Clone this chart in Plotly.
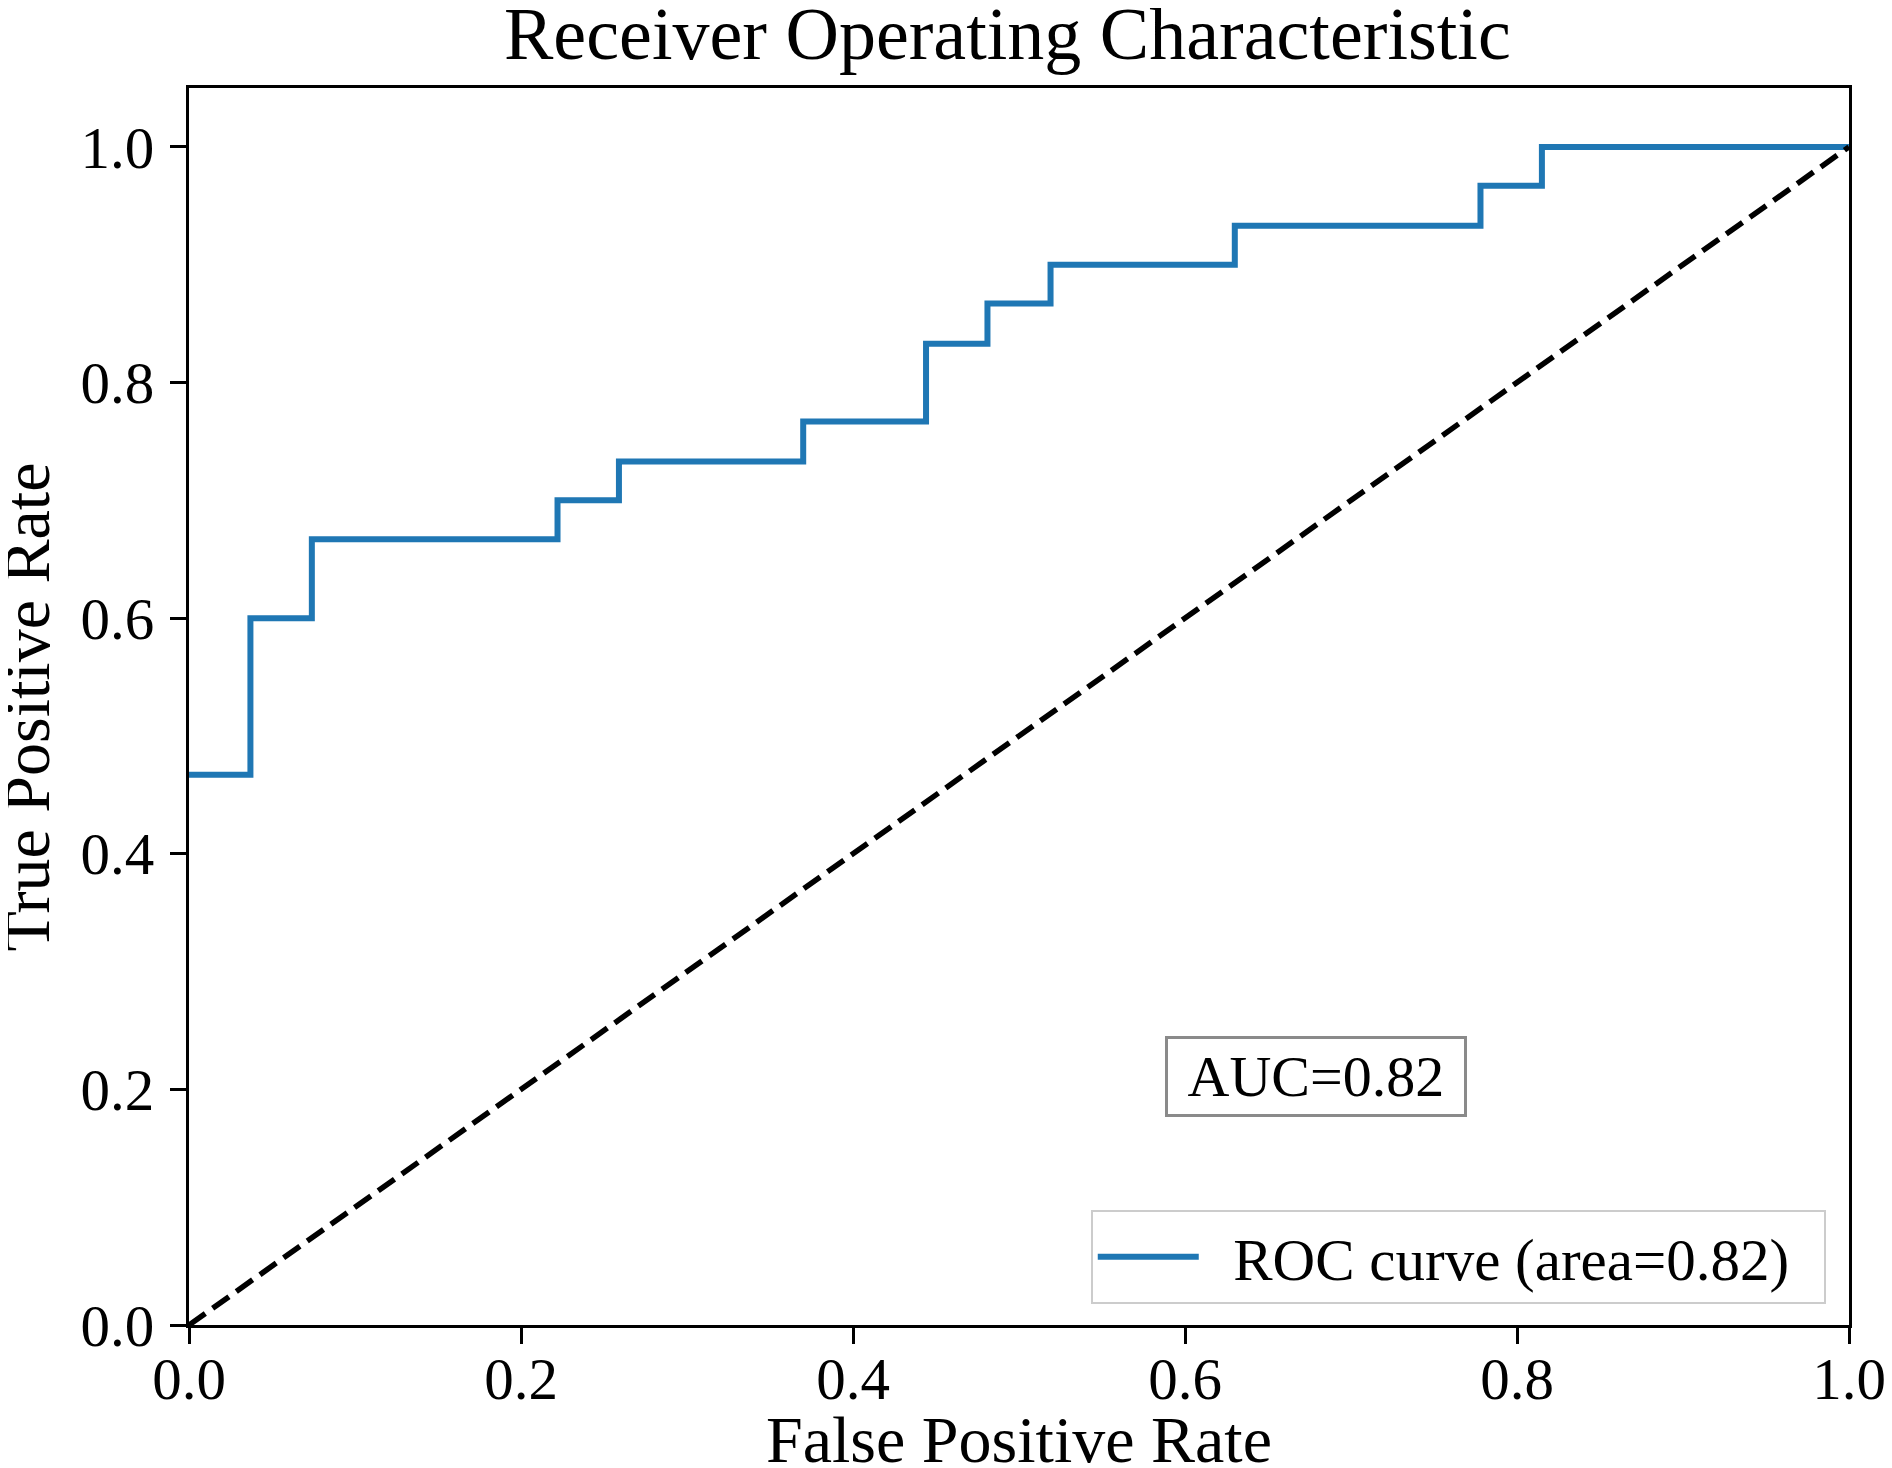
import plotly.graph_objects as go

# ROC curve step points
fpr = [0.0, 0.037, 0.074, 0.222, 0.259, 0.370, 0.444, 0.481, 0.519, 0.630, 0.778, 0.815, 1.0]
tpr = [0.467, 0.600, 0.667, 0.700, 0.733, 0.767, 0.833, 0.867, 0.900, 0.933, 0.967, 1.0, 1.0]
chance_x = [0.0, 1.0]
chance_y = [0.0, 1.0]
roc_label = "ROC curve (area=0.82)"
auc_text = "AUC=0.82"
auc_pos = (0.679, 0.211)
tick_vals = [0.0, 0.2, 0.4, 0.6, 0.8, 1.0]

FONT = "Liberation Serif"
NB = "\u00a0"

fig = go.Figure()
fig.add_trace(go.Scatter(
    x=fpr, y=tpr, mode="lines", line_shape="hv",
    line=dict(color="#1f77b4", width=6), name=NB * 2 + roc_label + NB * 2,
))
fig.add_trace(go.Scatter(
    x=chance_x, y=chance_y, mode="lines",
    line=dict(color="black", width=5.5, dash="20px,9px"), showlegend=False,
))

fig.add_annotation(
    x=auc_pos[0], y=auc_pos[1], xref="x", yref="y", text=NB + auc_text + NB, showarrow=False,
    font=dict(family=FONT, size=58, color="black"),
    bordercolor="#8a8a8a", borderwidth=3, borderpad=5, bgcolor="white",
)
# y-axis title placed in the left margin
fig.add_annotation(
    x=-0.0976, y=0.5, xref="paper", yref="paper", text="True Positive Rate",
    textangle=-90, showarrow=False, xanchor="center", yanchor="middle",
    font=dict(family=FONT, size=66, color="black"),
)

axis_common = dict(
    showline=True, linecolor="black", linewidth=3, mirror=True,
    ticks="outside", ticklen=16, tickwidth=2.5, tickcolor="black",
    showgrid=False, zeroline=False, automargin=False,
    tickvals=tick_vals, tickformat=".1f",
    tickfont=dict(family=FONT, size=59, color="black"),
)

fig.update_layout(
    width=1892, height=1468,
    paper_bgcolor="white", plot_bgcolor="white",
    margin=dict(l=181, r=51, t=80, b=151),
    title=dict(text="Receiver Operating Characteristic", xref="paper", x=0.493, xanchor="center",
               y=1 - 25 / 1468, yanchor="middle",
               font=dict(family=FONT, size=74, color="black")),
    xaxis=dict(range=[0, 1], ticklabelstandoff=-16,
               title=dict(text="False Positive Rate", standoff=4,
               font=dict(family=FONT, size=66, color="black")), **axis_common),
    yaxis=dict(range=[0, 1.05], ticklabelstandoff=4, **axis_common),
    legend=dict(x=0.986, y=0.017, xanchor="right", yanchor="bottom",
                bgcolor="white", bordercolor="#cccccc", borderwidth=2,
                itemwidth=101,
                font=dict(family=FONT, size=59, color="black")),
    showlegend=True,
)

fig.write_html("out.html")
